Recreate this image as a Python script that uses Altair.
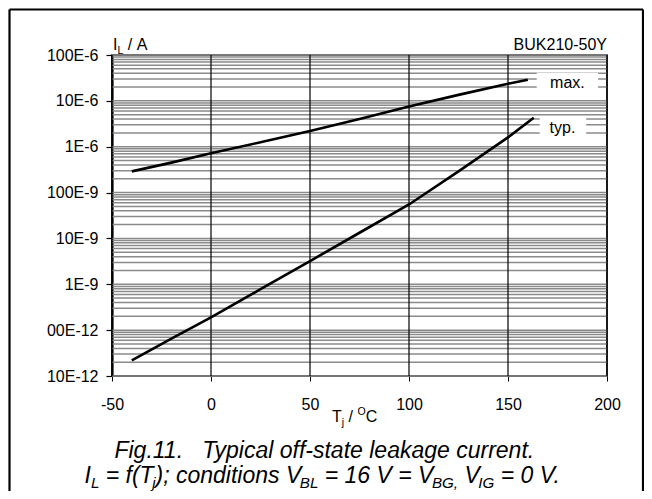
import altair as alt
import pandas as pd

# ---------------- data ----------------
T_MAX = [-40, -20, 0, 25, 50, 75, 100, 125, 150, 160]
I_MAX = [2.9e-7, 4.5e-7, 7.2e-7, 1.25e-6, 2.2e-6, 4.0e-6, 7.5e-6, 1.35e-5, 2.35e-5, 2.9e-5]

T_TYP = [-40, -20, 0, 25, 50, 75, 100, 125, 150, 163]
I_TYP = [2.2e-11, 6.5e-11, 1.9e-10, 7.8e-10, 3.2e-9, 1.33e-8, 5.5e-8, 2.9e-7, 1.6e-6, 4.3e-6]

X_TICKS = [-50, 0, 50, 100, 150, 200]
Y_DECADES = [1e-11, 1e-10, 1e-9, 1e-8, 1e-7, 1e-6, 1e-5, 1e-4]
Y_LABELS = ["10E-12", "00E-12", "1E-9", "10E-9", "100E-9", "1E-6", "10E-6", "100E-6"]
MINOR_MULT = [1, 2, 3, 4, 5, 6, 7, 8, 9]

# curve labels (text, box T from/to, box I from/to, text T, text I)
LBL_TEXT = ["max.", "typ."]
LBL_T1 = [164.5, 166]
LBL_T2 = [195.5, 189.5]
LBL_I1 = [1.48e-5, 1.55e-6]
LBL_I2 = [4.1e-5, 4.5e-6]
LBL_TX = [180, 177.5]
LBL_IY = [2.45e-5, 2.6e-6]

FONT = "Liberation Sans"
NB = "\u00a0"

# ---------------- geometry ----------------
W, H = 495, 321
PAD = {"left": 104, "top": 47, "right": 37, "bottom": 115}

# Arial / Liberation Sans advance widths (per 1000 em)
AW = {' ': 278, NB: 278, '.': 278, ',': 278, ';': 278, '=': 584, '(': 333, ')': 333, '-': 333, '/': 278}
for c in '0123456789':
    AW[c] = 556
AW.update(dict(a=556, b=556, c=500, d=556, e=556, f=278, g=556, h=556, i=222, j=222, k=500,
               l=222, m=833, n=556, o=556, p=556, q=556, r=333, s=500, t=278, u=556, v=500,
               w=722, x=500, y=500, z=500))
AW.update(dict(A=667, B=667, C=722, D=722, E=667, F=611, G=778, H=722, I=278, J=500, K=667,
               L=556, M=833, N=722, O=778, P=667, Q=778, R=722, S=667, T=611, U=722, V=667,
               W=944, X=667, Y=667, Z=611))


def tw(s, size):
    return sum(AW.get(ch, 556) for ch in s) * size / 1000.0


def rich(segments, x0, y0, size, style="normal", align="left", subdrop=0.26, kern=0.0):
    """segments: list of (text, kind) with kind in n/sub/sup"""
    sub = size * 0.66
    widths = [tw(t, size if k == "n" else sub) for t, k in segments]
    total = sum(widths)
    x = x0 - (total / 2 if align == "center" else 0)
    layers = []
    prev_t, prev_k = "", "n"
    for (t, k), w in zip(segments, widths):
        fs = size if k == "n" else sub
        dy = 0 if k == "n" else (size * subdrop if k == "sub" else -size * 0.42)
        lead = len(t) - len(t.lstrip(" "))
        body = t.strip(" ").replace(" ", NB)
        kk = kern if (k == "sub" and prev_k == "n" and prev_t[-1:] in ("T", "V")) else 0.0
        shift = tw(" " * lead, fs) - kk
        layers.append(
            alt.Chart(pd.DataFrame({"t": [body]}))
            .mark_text(align="left", baseline="alphabetic", font=FONT, fontSize=fs,
                       fontStyle=style, color="black")
            .encode(text="t:N", x=alt.value(x + shift), y=alt.value(y0 + dy))
        )
        x += w - kk
        prev_t, prev_k = t, k
    return layers


# ---------------- tables ----------------
curves = pd.concat([
    pd.DataFrame({"T": T_MAX, "I": I_MAX, "s": "max"}),
    pd.DataFrame({"T": T_TYP, "I": I_TYP, "s": "typ"}),
])
hgrid = pd.DataFrame({"v": [m * d for d in Y_DECADES[:-1] for m in MINOR_MULT] + [Y_DECADES[-1]]})
vgrid = pd.DataFrame({"v": X_TICKS})
lbl = pd.DataFrame({"t": LBL_TEXT, "t1": LBL_T1, "t2": LBL_T2, "i1": LBL_I1, "i2": LBL_I2,
                    "tx": LBL_TX, "iy": LBL_IY})

xs = alt.Scale(domain=[-50, 200], nice=False, zero=False)
ys = alt.Scale(type="log", domain=[1e-11, 1e-4], nice=False)

label_expr = ("[" + ",".join("'%s'" % s for s in Y_LABELS) + "][round(log(datum.value)/LN10)+11]")

X_AX = alt.Axis(values=X_TICKS, title=None, grid=False, tickSize=5, tickColor="black",
                domain=False, labelFont=FONT, labelFontSize=16, labelColor="black",
                labelPadding=15, labelFlush=False, labelExpr="'' + datum.value")
Y_AX = alt.Axis(values=Y_DECADES, title=None, grid=False, tickSize=6, tickColor="black",
                tickWidth=1.2, domainColor="black", domainWidth=2.2, labelFont=FONT,
                labelFontSize=16, labelColor="black", labelPadding=8, labelExpr=label_expr)

hg = alt.Chart(hgrid).mark_rule(color="#8a8a8a", strokeWidth=1.5).encode(
    y=alt.Y("v:Q", scale=ys, axis=Y_AX))
vg = alt.Chart(vgrid).mark_rule(color="black", strokeWidth=1.2).encode(
    x=alt.X("v:Q", scale=xs, axis=X_AX))

lines = alt.Chart(curves).mark_line(color="black", strokeWidth=2.6).encode(
    x=alt.X("T:Q", scale=xs, axis=X_AX),
    y=alt.Y("I:Q", scale=ys, axis=Y_AX),
    detail="s:N",
)

boxes = alt.Chart(lbl).mark_rect(fill="white").encode(
    x=alt.X("t1:Q", scale=xs, axis=X_AX), x2="t2:Q",
    y=alt.Y("i1:Q", scale=ys, axis=Y_AX), y2="i2:Q")
btxt = alt.Chart(lbl).mark_text(font=FONT, fontSize=16, color="black", align="center",
                                baseline="middle").encode(
    x=alt.X("tx:Q", scale=xs, axis=X_AX), y=alt.Y("iy:Q", scale=ys, axis=Y_AX), text="t:N")

# outer frame (pixel positions relative to plot origin)
one = pd.DataFrame({"a": [0]})
FL, FR, FT, FB = -102.5, 531, -45.5, 440
frame = [
    alt.Chart(one).mark_rule(color="black", strokeWidth=2.2).encode(
        x=alt.value(FL), x2=alt.value(FR), y=alt.value(FT)),
    alt.Chart(one).mark_rule(color="black", strokeWidth=2.2).encode(
        x=alt.value(FL), y=alt.value(FT), y2=alt.value(FB)),
    alt.Chart(one).mark_rule(color="black", strokeWidth=2.2).encode(
        x=alt.value(FR), y=alt.value(FT), y2=alt.value(FB)),
]

texts = []
texts += rich([("I", "n"), ("L", "sub"), (" / A", "n")], 1, -5, 16)
texts.append(alt.Chart(pd.DataFrame({"t": ["BUK210-50Y"]})).mark_text(
    align="right", baseline="alphabetic", font=FONT, fontSize=16, color="black").encode(
    text="t:N", x=alt.value(W), y=alt.value(-5)))
texts += rich([("T", "n"), ("j", "sub"), (" / ", "n"), ("O", "sup"), ("C", "n")], 220, 367, 16)
texts += rich([("Fig.11.   Typical off-state leakage current.", "n")], 214, 403, 23,
              style="italic", align="center")
texts += rich([("I", "n"), ("L", "sub"), (" = f(T", "n"), ("j", "sub"), ("); conditions V", "n"),
               ("BL", "sub"), (" = 16 V = V", "n"), ("BG,", "sub"), (" V", "n"), ("IG", "sub"),
               (" = 0 V.", "n")], 214, 428, 23, style="italic", align="center",
              subdrop=0.2, kern=1.5)

chart = alt.layer(hg, vg, lines, boxes, btxt, *frame, *texts).properties(
    width=W, height=H, autosize="none", padding=PAD, background="white"
).configure_view(stroke="black", strokeWidth=1.5)

chart.save("out.html", embed_options={"renderer": "svg", "actions": False})
